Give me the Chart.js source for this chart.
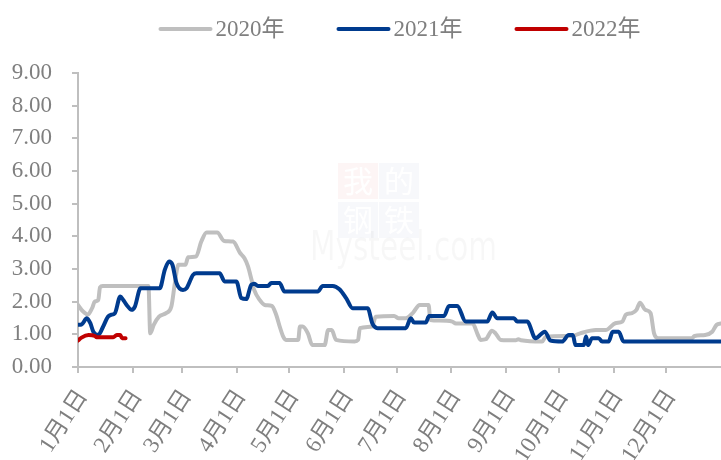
<!DOCTYPE html>
<html>
<head>
<meta charset="utf-8">
<script src="https://cdn.jsdelivr.net/npm/chart.js@4/dist/chart.umd.min.js"></script>
<style>
  html, body { margin: 0; padding: 0; background: #fff; }
  #wrap { width: 721px; height: 460px; position: relative; }
</style>
</head>
<body>
<div id="wrap"><canvas id="myChart" width="721" height="460"></canvas></div>
<script>
// day of year (0 = 1月1日) and values
const monthStarts = [0, 31, 59, 90, 120, 151, 181, 212, 243, 273, 304, 334];
const monthLabels = ["1月1日", "2月1日", "3月1日", "4月1日", "5月1日", "6月1日",
  "7月1日", "8月1日", "9月1日", "10月1日", "11月1日", "12月1日"];
const yTicks = [0, 1, 2, 3, 4, 5, 6, 7, 8, 9];

const days2020 = [0, 2, 4, 5.5, 8, 9.5, 11.5, 12.5, 14, 40, 41, 43, 46, 50, 53, 55, 57, 61, 62.5, 67,
  70, 73, 79, 83, 88, 92, 94.5, 96.5, 98.5, 100, 103, 106, 110, 112.5, 114.5, 116.5, 118, 125, 126, 127.5,
  130.5, 133, 140, 142, 144, 146.5, 157, 159, 160, 167, 169, 179.5, 182, 186, 190, 194, 199, 200, 205, 212.5,
  214.5, 224, 227, 228.5, 231.5, 235, 237, 240, 248.5, 250, 251.5, 263.5, 265.5, 280.5, 285, 294, 299.5, 305, 309, 311,
  314.5, 317, 319, 322, 325, 327, 329.5, 348.5, 350, 356, 360, 362.5, 365];
const values2020 = [1.90, 1.75, 1.65, 1.60, 1.80, 2.00, 2.05, 2.44, 2.48, 2.48, 1.03, 1.29, 1.54, 1.65, 1.85, 2.57, 3.13, 3.13, 3.36, 3.38,
  3.84, 4.12, 4.12, 3.86, 3.84, 3.49, 3.33, 3.08, 2.67, 2.36, 2.06, 1.90, 1.87, 1.60, 1.24, 0.93, 0.83, 0.83, 1.24, 1.24,
  1.03, 0.67, 0.67, 1.13, 1.13, 0.83, 0.78, 0.83, 1.19, 1.24, 1.54, 1.56, 1.49, 1.49, 1.65, 1.90, 1.90, 1.44, 1.42, 1.39,
  1.33, 1.33, 0.98, 0.83, 0.85, 1.11, 1.03, 0.83, 0.82, 0.85, 0.82, 0.78, 0.93, 0.95, 1.03, 1.13, 1.13, 1.34, 1.39, 1.60,
  1.65, 1.75, 1.97, 1.75, 1.65, 1.03, 0.88, 0.88, 0.95, 0.98, 1.08, 1.29, 1.33];

const days2021 = [0, 2, 5, 7, 8.7, 11.5, 14.3, 17, 19, 21, 24, 25.7, 27.6, 30.4, 32.3, 35.5, 46.4, 49.3, 51.7, 53.6,
  55.9, 59.6, 61.6, 65.3, 67.2, 80.4, 83.2, 89.9, 92.7, 95.5, 98.4, 100.2, 102.1, 107.8, 109.7, 114.4, 117.2, 136.1, 138.9, 144.6,
  148.4, 152.2, 155.9, 164.4, 167.2, 170, 186.1, 188.9, 190.8, 197.4, 199.3, 207.8, 210.6, 215.3, 220.1, 232.3, 235.2, 238, 247.5, 249.3,
  255, 259.7, 265, 268.2, 274.8, 278.6, 280.9, 282.4, 287.1, 288.4, 289.5, 291.8, 295.6, 297.5, 301.2, 303.5, 306.9, 309.7, 365];
const values2021 = [1.29, 1.30, 1.49, 1.34, 1.08, 0.98, 1.24, 1.54, 1.60, 1.65, 2.16, 2.05, 1.90, 1.75, 1.85, 2.41, 2.41, 2.98, 3.23, 3.13,
  2.57, 2.36, 2.41, 2.82, 2.87, 2.87, 2.62, 2.62, 2.11, 2.08, 2.52, 2.55, 2.48, 2.48, 2.57, 2.57, 2.31, 2.31, 2.48, 2.48,
  2.38, 2.11, 1.80, 1.80, 1.32, 1.19, 1.19, 1.49, 1.36, 1.36, 1.56, 1.56, 1.87, 1.87, 1.39, 1.39, 1.67, 1.49, 1.49, 1.39,
  1.39, 0.88, 1.08, 0.81, 0.78, 0.98, 0.98, 0.67, 0.67, 0.93, 0.67, 0.88, 0.88, 0.78, 0.78, 1.08, 1.08, 0.78, 0.78];

const days2022 = [0, 2, 6, 9.6, 10.6, 20, 22, 24, 25, 27];
const values2022 = [0.81, 0.90, 0.98, 0.95, 0.91, 0.91, 0.98, 0.98, 0.88, 0.88];

const toPoints = (days, vals) => days.map((d, i) => ({ x: d, y: vals[i] }));

const TEXT_FONT = "'Liberation Serif', 'Noto Sans CJK SC', serif";
const TEXT_COLOR = "#7f7f7f";
const AXIS_COLOR = "#bfbfbf";

// faint site logo behind the lines
const watermark = {
  id: "watermark",
  beforeDatasetsDraw(chart) {
    const ctx = chart.ctx;
    ctx.save();
    const x0 = 338, y0 = 163;
    const cells = [["我", 0, 0, "rgba(220,60,60,0.05)"], ["的", 1, 0, "rgba(40,70,150,0.035)"],
      ["钢", 0, 1, "rgba(40,70,150,0.035)"], ["铁", 1, 1, "rgba(40,70,150,0.035)"]];
    ctx.textAlign = "center";
    ctx.textBaseline = "middle";
    ctx.font = "30px 'Noto Sans CJK SC'";
    cells.forEach(([ch, cx, cy, col]) => {
      const x = x0 + cx * 41, y = y0 + cy * 39;
      ctx.fillStyle = col;
      ctx.fillRect(x, y, 40, 36);
      ctx.fillStyle = "#ffffff";
      ctx.fillText(ch, x + 20, y + 18);
    });
    ctx.textAlign = "left";
    ctx.textBaseline = "alphabetic";
    ctx.font = "40px 'DejaVu Sans'";
    ctx.fillStyle = "rgba(0,0,0,0.03)";
    const w = ctx.measureText("Mysteel.com").width;
    ctx.translate(310, 260);
    ctx.scale(187 / w, 1);
    ctx.fillText("Mysteel.com", 0, 0);
    ctx.restore();
  },
};

// legend: short thick line, then label, centred over the plot area
const lineLegend = {
  id: "lineLegend",
  afterDraw(chart) {
    const ctx = chart.ctx;
    const { left, right } = chart.chartArea;
    ctx.save();
    ctx.font = "23px " + TEXT_FONT;
    const lineW = 54, gap = 3, spacing = 52;
    const items = chart.data.datasets.map((ds) => ({
      label: ds.label, color: ds.borderColor, w: lineW + gap + ctx.measureText(ds.label).width,
    }));
    const total = items.reduce((s, it) => s + it.w, 0) + spacing * (items.length - 1);
    let x = (left + right) / 2 - total / 2;
    const y = 29;
    items.forEach((it) => {
      ctx.strokeStyle = it.color;
      ctx.lineWidth = 4;
      ctx.lineCap = "round";
      ctx.beginPath();
      ctx.moveTo(x + 2, y);
      ctx.lineTo(x + lineW - 2, y);
      ctx.stroke();
      ctx.fillStyle = TEXT_COLOR;
      ctx.textBaseline = "middle";
      ctx.fillText(it.label, x + lineW + gap, y + 1);
      x += it.w + spacing;
    });
    ctx.restore();
  },
};

const ctx = document.getElementById("myChart").getContext("2d");
new Chart(ctx, {
  type: "line",
  data: {
    datasets: [
      { label: "2020年", data: toPoints(days2020, values2020), borderColor: "#bfbfbf", order: 3 },
      { label: "2021年", data: toPoints(days2021, values2021), borderColor: "#003b8e", order: 2 },
      { label: "2022年", data: toPoints(days2022, values2022), borderColor: "#c00000", order: 1 },
    ],
  },
  options: {
    responsive: false,
    animation: false,
    layout: { padding: { top: 73, right: 0, left: 0, bottom: 0 } },
    elements: {
      point: { radius: 0 },
      line: {
        borderWidth: 4, cubicInterpolationMode: "monotone", fill: false,
        borderCapStyle: "round", borderJoinStyle: "round",
      },
    },
    scales: {
      x: {
        type: "linear",
        min: 0,
        max: 365,
        afterBuildTicks: (axis) => {
          axis.ticks = monthStarts.map((v) => ({ value: v }));
        },
        afterFit: (scale) => {
          scale.height = 93;
        },
        ticks: {
          autoSkip: false,
          minRotation: 57,
          maxRotation: 57,
          padding: 12,
          labelOffset: 5,
          color: TEXT_COLOR,
          font: { family: TEXT_FONT, size: 23 },
          callback: (v) => {
            const i = monthStarts.indexOf(v);
            return i >= 0 ? monthLabels[i] : "";
          },
        },
        grid: { drawOnChartArea: false, drawTicks: true, tickLength: 6, color: AXIS_COLOR, lineWidth: 2 },
        border: { display: true, color: AXIS_COLOR, width: 2 },
      },
      y: {
        min: 0,
        max: 9,
        afterBuildTicks: (axis) => {
          axis.ticks = yTicks.map((v) => ({ value: v }));
        },
        afterFit: (scale) => {
          scale.width = 78;
        },
        ticks: {
          padding: 20,
          color: TEXT_COLOR,
          font: { family: TEXT_FONT, size: 23 },
          callback: (v) => v.toFixed(2),
        },
        grid: { drawOnChartArea: false, drawTicks: true, tickLength: 6, color: AXIS_COLOR, lineWidth: 2 },
        border: { display: true, color: AXIS_COLOR, width: 2 },
      },
    },
    plugins: {
      legend: { display: false },
      tooltip: { enabled: false },
    },
  },
  plugins: [watermark, lineLegend],
});
</script>
</body>
</html>
